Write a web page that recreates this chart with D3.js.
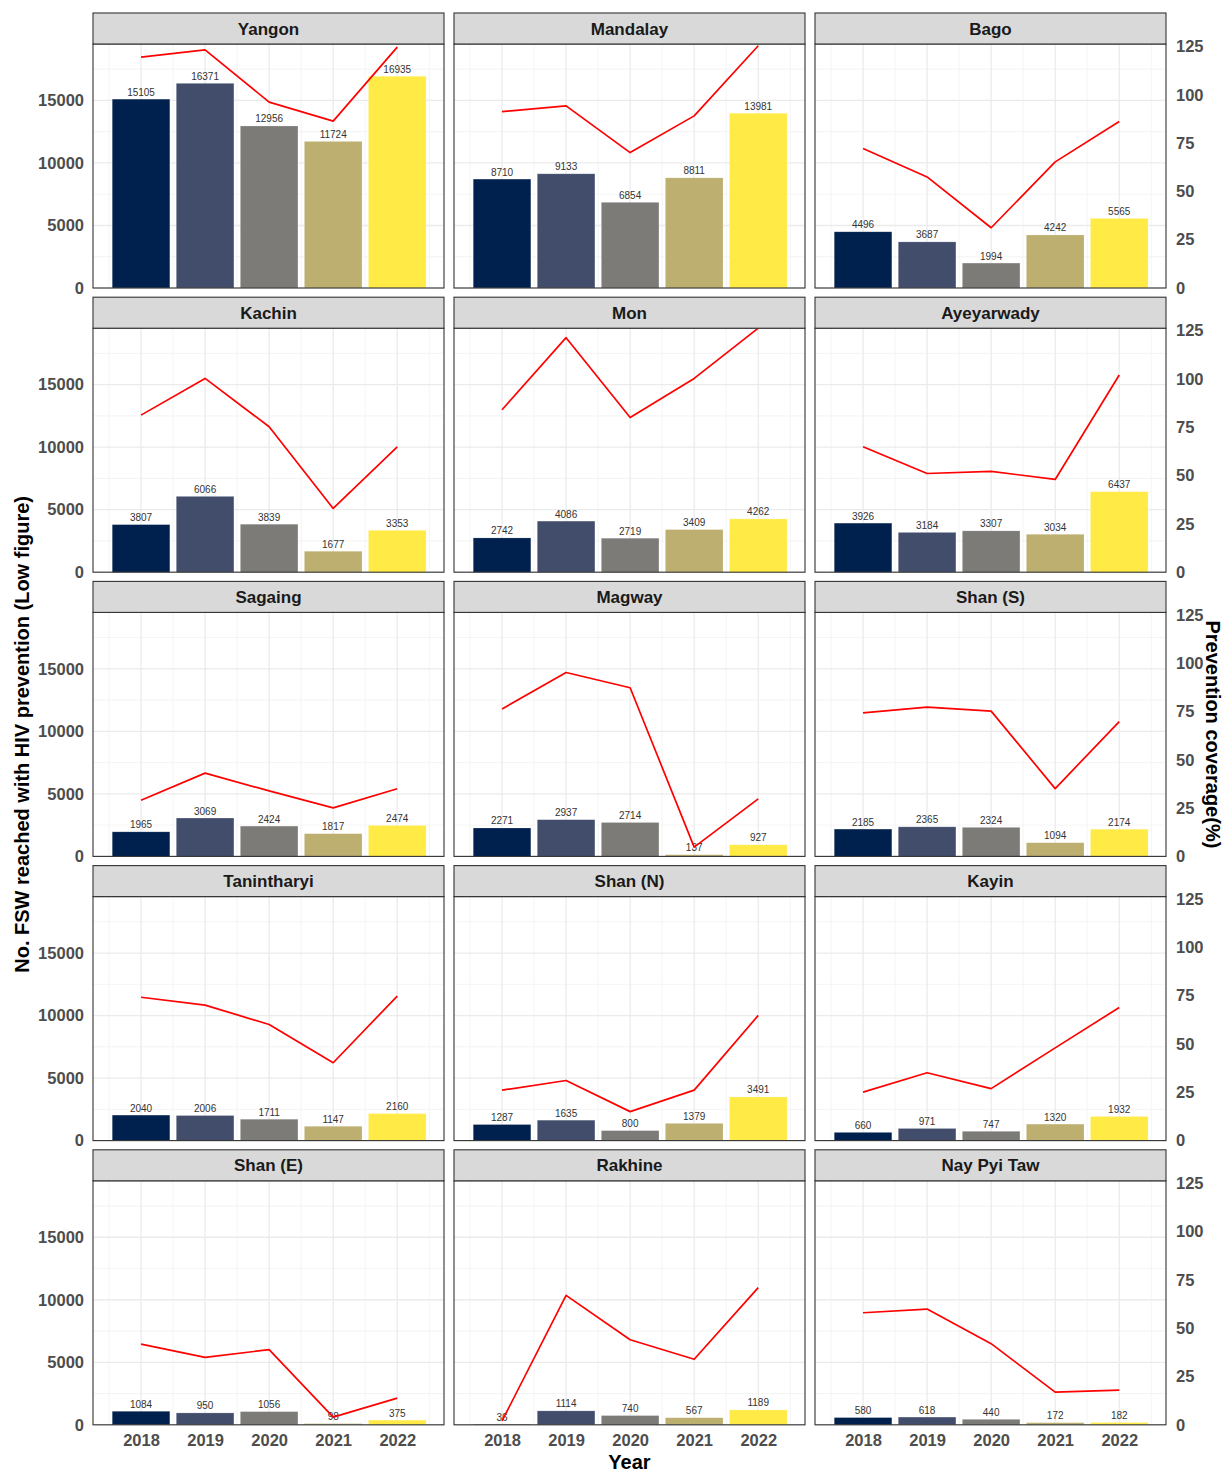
<!DOCTYPE html>
<html>
<head>
<meta charset="utf-8">
<script src="https://cdn.jsdelivr.net/npm/d3@7"></script>
<style>
  body { margin: 0; background: #fff; }
  svg { display: block; font-family: "Liberation Sans", Arial, Helvetica, sans-serif; }
</style>
</head>
<body>
<svg id="chart" width="1226" height="1472"></svg>
<script>
// Years shown on the x axis and as bar colours
const years = [2018, 2019, 2020, 2021, 2022];

// Regions, one facet each (reading order)
const regions = [
  "Yangon", "Mandalay", "Bago",
  "Kachin", "Mon", "Ayeyarwady",
  "Sagaing", "Magway", "Shan (S)",
  "Tanintharyi", "Shan (N)", "Kayin",
  "Shan (E)", "Rakhine", "Nay Pyi Taw"
];

// Number of FSW reached with HIV prevention (low figure), per region per year
const fswReached = [
  [15105, 16371, 12956, 11724, 16935],
  [8710, 9133, 6854, 8811, 13981],
  [4496, 3687, 1994, 4242, 5565],
  [3807, 6066, 3839, 1677, 3353],
  [2742, 4086, 2719, 3409, 4262],
  [3926, 3184, 3307, 3034, 6437],
  [1965, 3069, 2424, 1817, 2474],
  [2271, 2937, 2714, 137, 927],
  [2185, 2365, 2324, 1094, 2174],
  [2040, 2006, 1711, 1147, 2160],
  [1287, 1635, 800, 1379, 3491],
  [660, 971, 747, 1320, 1932],
  [1084, 950, 1056, 98, 375],
  [36, 1114, 740, 567, 1189],
  [580, 618, 440, 172, 182]
];

// Prevention coverage (%), per region per year
const coverage = [
  [119.5, 123.3, 96.2, 86.4, 124.7],
  [91.3, 94.3, 70.1, 89.1, 125.4],
  [72.2, 57.5, 31.2, 65.3, 86.2],
  [81.3, 100.3, 75.3, 33.0, 64.9],
  [84.1, 121.4, 80.1, 100.3, 126.3],
  [64.9, 51.1, 52.2, 48.0, 102.1],
  [29.1, 43.1, 33.9, 25.1, 35.0],
  [76.3, 95.2, 87.3, 4.8, 29.8],
  [74.3, 77.3, 75.2, 35.1, 69.8],
  [74.2, 70.1, 60.1, 40.3, 74.8],
  [26.1, 31.1, 15.0, 26.1, 64.8],
  [25.1, 35.1, 26.9, 48.0, 68.9],
  [41.8, 34.9, 38.9, 4.0, 13.8],
  [2.0, 67.0, 44.0, 33.9, 71.0],
  [58.0, 59.9, 42.0, 16.9, 18.0]
];

// Axis ticks
const countTicks = [0, 5000, 10000, 15000];
const countMinorTicks = [2500, 7500, 12500, 17500];
const coverageTicks = [0, 25, 50, 75, 100, 125];
const yearMinorTicks = [2017.5, 2018.5, 2019.5, 2020.5, 2021.5, 2022.5];

// Cividis palette, one colour per year
const yearColors = ["#00204D", "#414D6B", "#7C7B78", "#BCAF6F", "#FFEA46"];

// Secondary axis: one percentage point of coverage drawn as this many FSW
const coverageFactor = 154.5;

// ---- layout ----
const nCols = 3;
const marginLeft = 93, marginTop = 13;
const panelW = 351, gapX = 10;
const stripH = 31, panelH = 244, pitchY = 284.2;
const nRows = Math.ceil(regions.length / nCols);

const svg = d3.select("#chart");

// Shared scales (fixed across facets)
const x = d3.scaleLinear().domain([2017.25, 2022.73]).range([0, panelW]);
const maxCoverage = d3.max(coverage.flat());
const yCount = d3.scaleLinear().domain([0, maxCoverage * coverageFactor]).range([panelH, 0]);
const yCov = d3.scaleLinear().domain([0, maxCoverage]).range([panelH, 0]);
const color = d3.scaleOrdinal().domain(years).range(yearColors);
const barW = x(2018.45) - x(2017.55);

const coverageLine = d3.line()
  .x(d => x(d.year))
  .y(d => yCov(d.value));

const tickFont = "16.5px";
const tickColor = "#4D4D4D";
const plain = d3.format("d");

regions.forEach((region, i) => {
  const col = i % nCols, row = Math.floor(i / nCols);
  const px = marginLeft + col * (panelW + gapX);
  const stripY = marginTop + row * pitchY;
  const py = stripY + stripH;

  const g = svg.append("g").attr("transform", `translate(${px},${py})`);

  // minor grid
  g.append("g").selectAll("line").data(countMinorTicks).join("line")
    .attr("x1", 0).attr("x2", panelW)
    .attr("y1", d => yCount(d)).attr("y2", d => yCount(d))
    .attr("stroke", "#EFEFEF").attr("stroke-width", 0.7);
  g.append("g").selectAll("line").data(yearMinorTicks).join("line")
    .attr("y1", 0).attr("y2", panelH)
    .attr("x1", d => x(d)).attr("x2", d => x(d))
    .attr("stroke", "#EFEFEF").attr("stroke-width", 0.7);
  // major grid
  g.append("g").selectAll("line").data(countTicks).join("line")
    .attr("x1", 0).attr("x2", panelW)
    .attr("y1", d => yCount(d)).attr("y2", d => yCount(d))
    .attr("stroke", "#EBEBEB").attr("stroke-width", 1.3);
  g.append("g").selectAll("line").data(years).join("line")
    .attr("y1", 0).attr("y2", panelH)
    .attr("x1", d => x(d)).attr("x2", d => x(d))
    .attr("stroke", "#EBEBEB").attr("stroke-width", 1.3);

  const rows = years.map((yr, j) => ({ year: yr, count: fswReached[i][j], value: coverage[i][j] }));

  // bars
  g.append("g").selectAll("rect").data(rows).join("rect")
    .attr("x", d => x(d.year) - barW / 2)
    .attr("width", barW)
    .attr("y", d => yCount(d.count))
    .attr("height", d => panelH - yCount(d.count))
    .attr("fill", d => color(d.year))
    .attr("stroke", "rgba(255,255,255,0.35)")
    .attr("stroke-width", 0.6);

  // value labels
  g.append("g").selectAll("text").data(rows).join("text")
    .attr("x", d => x(d.year))
    .attr("y", d => yCount(d.count) - 3.5)
    .attr("text-anchor", "middle")
    .attr("font-size", "10px")
    .attr("fill", "#333333")
    .text(d => d.count);

  // coverage line
  g.append("path").datum(rows)
    .attr("d", coverageLine)
    .attr("fill", "none")
    .attr("stroke", "#FF0000")
    .attr("stroke-width", 1.7)
    .attr("stroke-linejoin", "round");

  // panel border
  g.append("rect")
    .attr("x", 0).attr("y", 0).attr("width", panelW).attr("height", panelH)
    .attr("fill", "none").attr("stroke", "#333333").attr("stroke-width", 1.1);

  // strip
  svg.append("rect")
    .attr("x", px).attr("y", stripY).attr("width", panelW).attr("height", stripH)
    .attr("fill", "#D9D9D9").attr("stroke", "#333333").attr("stroke-width", 1.1);
  svg.append("text")
    .attr("x", px + panelW / 2).attr("y", stripY + stripH / 2)
    .attr("dy", "0.36em")
    .attr("text-anchor", "middle")
    .attr("font-size", "17px").attr("font-weight", "bold")
    .attr("fill", "#1A1A1A")
    .text(region);

  // left axis on first column
  if (col === 0) {
    const ax = g.append("g").call(d3.axisLeft(yCount).tickValues(countTicks).tickFormat(plain).tickSize(0).tickPadding(9));
    ax.select(".domain").remove();
    ax.selectAll("text").attr("font-size", tickFont).attr("font-weight", "bold")
      .attr("fill", tickColor).attr("font-family", null);
  }
  // right axis on last column
  if (col === nCols - 1) {
    const ax = g.append("g").attr("transform", `translate(${panelW},0)`)
      .call(d3.axisRight(yCov).tickValues(coverageTicks).tickFormat(plain).tickSize(0).tickPadding(10));
    ax.select(".domain").remove();
    ax.selectAll("text").attr("font-size", tickFont).attr("font-weight", "bold")
      .attr("fill", tickColor).attr("font-family", null);
  }
  // x axis on bottom row
  if (row === nRows - 1) {
    const ax = g.append("g").attr("transform", `translate(0,${panelH})`)
      .call(d3.axisBottom(x).tickValues(years).tickFormat(plain).tickSize(0).tickPadding(9));
    ax.select(".domain").remove();
    ax.selectAll("text").attr("font-size", tickFont).attr("font-weight", "bold")
      .attr("fill", tickColor).attr("font-family", null);
  }
});

// axis titles
const panelsRight = marginLeft + nCols * panelW + (nCols - 1) * gapX;
const firstPanelTop = marginTop + stripH;
const lastPanelBottom = marginTop + (nRows - 1) * pitchY + stripH + panelH;
const midY = (firstPanelTop + lastPanelBottom) / 2;

svg.append("text")
  .attr("transform", `translate(22,${midY}) rotate(-90)`)
  .attr("text-anchor", "middle").attr("dy", "0.36em")
  .attr("font-size", "20px").attr("font-weight", "bold").attr("fill", "#000")
  .text("No. FSW reached with HIV prevention (Low figure)");

svg.append("text")
  .attr("transform", `translate(1213,${midY}) rotate(90)`)
  .attr("text-anchor", "middle").attr("dy", "0.36em")
  .attr("font-size", "20px").attr("font-weight", "bold").attr("fill", "#000")
  .text("Prevention coverage(%)");

svg.append("text")
  .attr("x", (marginLeft + panelsRight) / 2).attr("y", 1462)
  .attr("text-anchor", "middle").attr("dy", "0.36em")
  .attr("font-size", "20px").attr("font-weight", "bold").attr("fill", "#000")
  .text("Year");
</script>
</body>
</html>
